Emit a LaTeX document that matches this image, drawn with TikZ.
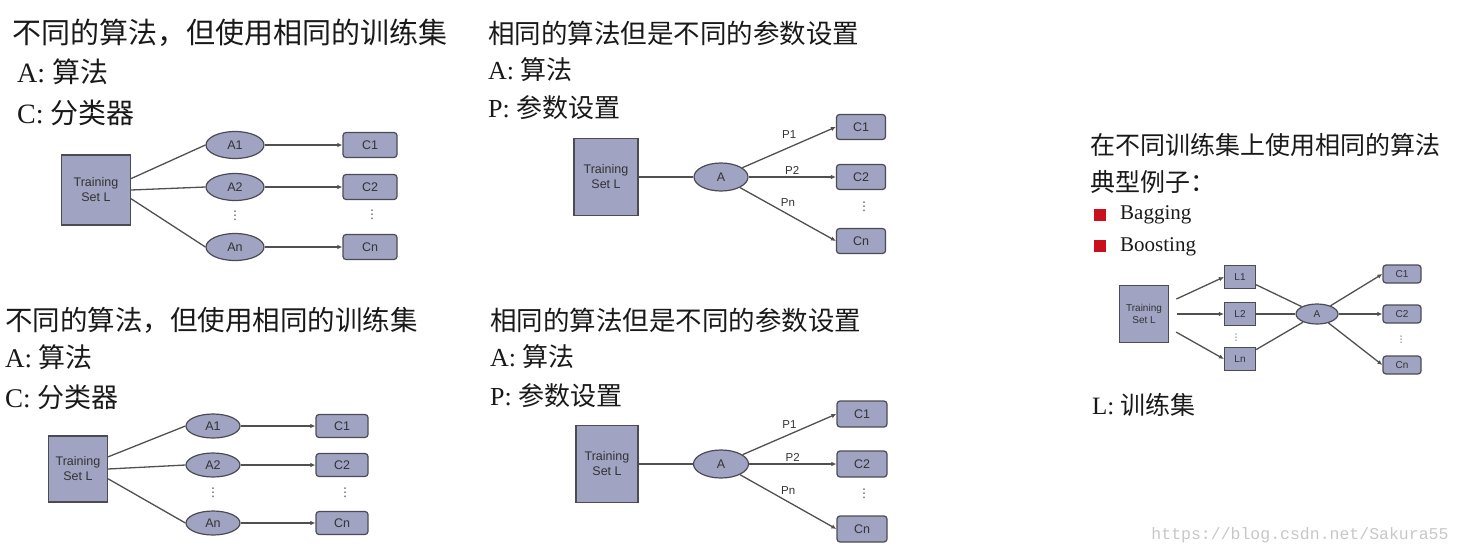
\documentclass[tikz,border=0pt]{standalone}
\usepackage{fontspec}
\setmainfont{Liberation Serif}
\setsansfont{Liberation Sans}
\newfontfamily\cjk{Noto Sans CJK SC}
\newfontfamily\wmfont{Liberation Mono}
\newfontfamily\symfont{DejaVu Sans}
\usetikzlibrary{arrows.meta,positioning,shapes.geometric}
\definecolor{nodefill}{RGB}{160,163,194}
\definecolor{nodeline}{RGB}{75,75,85}
\definecolor{edgecol}{RGB}{80,80,80}
\definecolor{bulletred}{RGB}{200,16,30}

\begin{document}
\begin{tikzpicture}[
  x=1pt,y=-1pt,
  trainbox/.style={draw=nodeline, fill=nodefill, line width=1.2pt, align=center, inner sep=0pt, text=black!80, font=\sffamily\fontsize{12.5}{15}\selectfont},
  algo/.style={ellipse, draw=nodeline, fill=nodefill, line width=1.2pt, inner sep=0pt, text=black!80, font=\sffamily\fontsize{12.5}{15}\selectfont},
  clf/.style={rectangle, rounded corners=3pt, draw=nodeline, fill=nodefill, line width=1.2pt, inner sep=0pt, text=black!80, font=\sffamily\fontsize{12.5}{15}\selectfont},
  smallnode/.style={font=\sffamily\fontsize{10}{12}\selectfont},
  vdot/.style={inner sep=0pt, text=black!70, font=\symfont\fontsize{12}{12}\selectfont},
  plabel/.style={inner sep=1pt, text=black!80, font=\sffamily\fontsize{11.5}{13}\selectfont},
  title/.style={anchor=west, inner sep=0pt, text=black!90},
  line/.style={draw=edgecol, line width=1.3pt},
  arr/.style={line, -{Latex[length=5pt,width=4.5pt]}}
]
\useasboundingbox (0,0) rectangle (1463,555);

% top left: different algorithms, same training set
\node[title, font=\cjk\fontsize{29}{29}\selectfont] (t1) at (12,33) {不同的算法，但使用相同的训练集};
\node[title, font=\fontsize{28}{28}\selectfont] (t1a) at (17,72) {A: {\cjk 算法}};
\node[title, font=\fontsize{28}{28}\selectfont] (t1c) at (17,113) {C: {\cjk 分类器}};
\node[trainbox, minimum width=69pt, minimum height=70pt] (tr1) at (96,190) {Training\\Set L};
\node[algo, minimum width=58pt, minimum height=27pt] (a11) at (235,145) {A1};
\node[algo, minimum width=58pt, minimum height=27pt] (a12) at (235,187) {A2};
\node[vdot] (a1d) at (235,216) {⋮};
\node[algo, minimum width=58pt, minimum height=27pt] (a1n) at (235,247) {An};
\node[clf, minimum width=54pt, minimum height=25pt] (c11) at (370,145) {C1};
\node[clf, minimum width=54pt, minimum height=25pt] (c12) at (370,187) {C2};
\node[vdot] (c1d) at (372,215) {⋮};
\node[clf, minimum width=54pt, minimum height=25pt] (c1n) at (370,247) {Cn};
\draw[line] (tr1.18) -- (a11.west);
\draw[line] (tr1.east) -- (a12.west);
\draw[line] (tr1.-14) -- (a1n.west);
\draw[arr] (a11.east) -- (c11.west);
\draw[arr] (a12.east) -- (c12.west);
\draw[arr] (a1n.east) -- (c1n.west);

% top middle: same algorithm, different parameters
\node[title, font=\cjk\fontsize{26.5}{26.5}\selectfont] (t2) at (488,33) {相同的算法但是不同的参数设置};
\node[title, font=\fontsize{26}{26}\selectfont] (t2a) at (488,70) {A: {\cjk 算法}};
\node[title, font=\fontsize{26}{26}\selectfont] (t2p) at (488,108) {P: {\cjk 参数设置}};
\node[trainbox, minimum width=64pt, minimum height=77pt] (tr2) at (606,177) {Training\\Set L};
\node[algo, minimum width=54pt, minimum height=28pt] (a2) at (721,177) {A};
\node[clf, minimum width=49pt, minimum height=25pt] (c21) at (861,127) {C1};
\node[clf, minimum width=49pt, minimum height=25pt] (c22) at (861,177) {C2};
\node[vdot] (c2d) at (864,207) {⋮};
\node[clf, minimum width=49pt, minimum height=25pt] (c2n) at (861,241) {Cn};
\draw[line] (tr2.east) -- (a2.west);
\draw[arr] (a2) -- (c21.west) node[plabel, midway, above=7pt] {P1};
\draw[arr] (a2.east) -- (c22.west) node[plabel, midway, above=1pt] {P2};
\draw[arr] (a2) -- (c2n.west) node[plabel, midway, above=6pt] {Pn};

% bottom left: different algorithms, same training set
\node[title, font=\cjk\fontsize{27.5}{27.5}\selectfont] (t3) at (5,320) {不同的算法，但使用相同的训练集};
\node[title, font=\fontsize{27}{27}\selectfont] (t3a) at (5,357) {A: {\cjk 算法}};
\node[title, font=\fontsize{27}{27}\selectfont] (t3c) at (5,397) {C: {\cjk 分类器}};
\node[trainbox, minimum width=59pt, minimum height=66pt] (tr3) at (78,469) {Training\\Set L};
\node[algo, minimum width=54pt, minimum height=24pt] (a31) at (213,426) {A1};
\node[algo, minimum width=54pt, minimum height=24pt] (a32) at (213,465) {A2};
\node[vdot] (a3d) at (213,493) {⋮};
\node[algo, minimum width=54pt, minimum height=24pt] (a3n) at (213,523) {An};
\node[clf, minimum width=52pt, minimum height=23pt] (c31) at (342,426) {C1};
\node[clf, minimum width=52pt, minimum height=23pt] (c32) at (342,465) {C2};
\node[vdot] (c3d) at (345,493) {⋮};
\node[clf, minimum width=52pt, minimum height=23pt] (c3n) at (342,523) {Cn};
\draw[line] (tr3.22) -- (a31.west);
\draw[line] (tr3.east) -- (a32.west);
\draw[line] (tr3.-18) -- (a3n.west);
\draw[arr] (a31.east) -- (c31.west);
\draw[arr] (a32.east) -- (c32.west);
\draw[arr] (a3n.east) -- (c3n.west);

% bottom middle: same algorithm, different parameters
\node[title, font=\cjk\fontsize{26.5}{26.5}\selectfont] (t4) at (490,320) {相同的算法但是不同的参数设置};
\node[title, font=\fontsize{26}{26}\selectfont] (t4a) at (490,357) {A: {\cjk 算法}};
\node[title, font=\fontsize{26}{26}\selectfont] (t4p) at (490,396) {P: {\cjk 参数设置}};
\node[trainbox, minimum width=62pt, minimum height=77pt] (tr4) at (607,464) {Training\\Set L};
\node[algo, minimum width=55pt, minimum height=28pt] (a4) at (721,464) {A};
\node[clf, minimum width=50pt, minimum height=26pt] (c41) at (862,414) {C1};
\node[clf, minimum width=50pt, minimum height=26pt] (c42) at (862,464) {C2};
\node[vdot] (c4d) at (864,494) {⋮};
\node[clf, minimum width=50pt, minimum height=26pt] (c4n) at (862,529) {Cn};
\draw[line] (tr4.east) -- (a4.west);
\draw[arr] (a4) -- (c41.west) node[plabel, midway, above=4pt] {P1};
\draw[arr] (a4.east) -- (c42.west) node[plabel, midway, above=1pt] {P2};
\draw[arr] (a4) -- (c4n.west) node[plabel, midway, above=6pt] {Pn};

% right: same algorithm on different training sets
\node[title, font=\cjk\fontsize{25}{25}\selectfont] (t5) at (1090,145) {在不同训练集上使用相同的算法};
\node[title, font=\cjk\fontsize{25}{25}\selectfont] (t5b) at (1090,182) {典型例子：};
\node[fill=bulletred, minimum size=12pt, inner sep=0pt] (b1) at (1100,215) {};
\node[fill=bulletred, minimum size=12pt, inner sep=0pt] (b2) at (1100,246) {};
\node[title, font=\fontsize{21}{21}\selectfont] (bag) at (1120,215) {Bagging};
\node[title, font=\fontsize{21}{21}\selectfont] (boost) at (1120,247) {Boosting};
\node[trainbox, smallnode, minimum width=49pt, minimum height=57pt] (tr5) at (1144,314) {Training\\Set L};
\node[trainbox, smallnode, minimum width=31pt, minimum height=23pt] (l1) at (1240,277) {L1};
\node[trainbox, smallnode, minimum width=31pt, minimum height=23pt] (l2) at (1240,314) {L2};
\node[vdot, font=\symfont\fontsize{9}{9}\selectfont] (ld) at (1236,338) {⋮};
\node[trainbox, smallnode, minimum width=31pt, minimum height=23pt] (lnn) at (1240,359) {Ln};
\node[algo, smallnode, minimum width=42pt, minimum height=20pt] (a5) at (1317,314) {A};
\node[clf, smallnode, minimum width=38pt, minimum height=18pt] (c51) at (1402,274) {C1};
\node[clf, smallnode, minimum width=38pt, minimum height=18pt] (c52) at (1402,314) {C2};
\node[vdot, font=\symfont\fontsize{9}{9}\selectfont] (c5d) at (1401,340) {⋮};
\node[clf, smallnode, minimum width=38pt, minimum height=18pt] (c5n) at (1402,365) {Cn};
\draw[arr, shorten <=8pt] (tr5) -- (l1.west);
\draw[arr, shorten <=8pt] (tr5) -- (l2.west);
\draw[arr, shorten <=8pt] (tr5) -- (lnn.west);
\draw[line] (l1) -- (a5);
\draw[line] (l2) -- (a5);
\draw[line] (lnn) -- (a5);
\draw[arr] (a5) -- (c51.west);
\draw[arr] (a5) -- (c52.west);
\draw[arr] (a5) -- (c5n.west);
\node[title, font=\fontsize{25}{25}\selectfont] (t5l) at (1092,405) {L: {\cjk 训练集}};

% watermark
\node[text=black!22, font=\wmfont\fontsize{16.5}{16.5}\selectfont] (wm) at (1300,535) {https://blog.csdn.net/Sakura55};
\end{tikzpicture}
\end{document}
